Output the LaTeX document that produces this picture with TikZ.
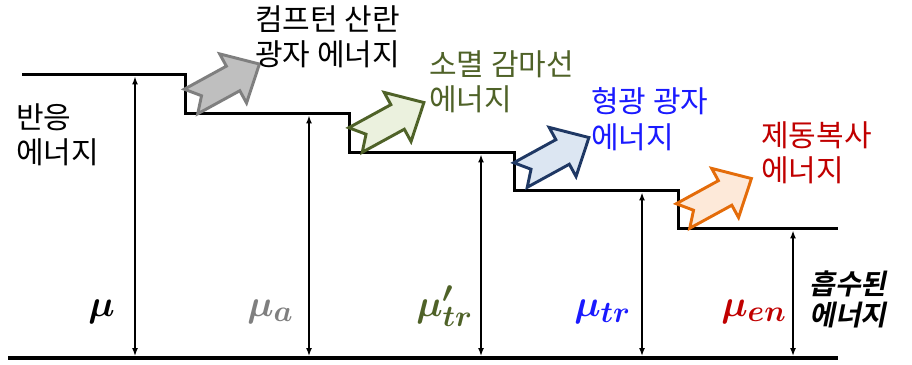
\RequirePackage{fix-cm}
\documentclass[tikz,border=0pt]{standalone}
\usepackage{amsmath}
\usepackage{bm}
\usepackage{fontspec}
\usepackage{tikz}
\usetikzlibrary{arrows.meta,positioning}
\newfontfamily\kofont{Noto Sans CJK KR}
\newfontfamily\kobsfont{Noto Sans CJK KR Bold}[FakeSlant=0.2]
\DeclareMathSizes{28}{28}{22.5}{18}
\definecolor{grayline}{HTML}{7F7F7F}
\definecolor{grayfill}{HTML}{BFBFBF}
\definecolor{olive}{HTML}{4F6228}
\definecolor{olivefill}{HTML}{EBF1DE}
\definecolor{navy}{HTML}{1F3864}
\definecolor{navyfill}{HTML}{DCE6F2}
\definecolor{orangeline}{HTML}{E46C0A}
\definecolor{orangefill}{HTML}{FDE9D9}
\definecolor{textblue}{HTML}{1A1AFF}
\definecolor{textred}{HTML}{C00000}
\tikzset{
  stair/.style={line width=2.25pt, line join=miter},
  ground/.style={line width=3pt},
  height/.style={line width=1.1pt, {Latex[length=6pt,width=4.5pt]}-{Latex[length=6pt,width=4.5pt]}},
  ktext/.style={font=\kofont\fontsize{22.5}{26.5}\selectfont, align=left, anchor=west, inner sep=0pt},
  kbold/.style={font=\kobsfont\fontsize{21}{23.5}\selectfont, align=left, anchor=west, inner sep=0pt},
  mulabel/.style={font=\fontsize{28}{32}\selectfont, anchor=base west, inner sep=0pt},
  notcharrow/.pic={
    \draw[pic actions, line width=2.2pt, line join=miter]
      (0,14) -- (48,14) -- (48,28) -- (78,0) -- (48,-28) -- (48,-14) -- (0,-14) -- (12,0) -- cycle;
  }
}
\begin{document}
\begin{tikzpicture}[x=0.75pt, y=0.75pt]
\useasboundingbox (0,0) rectangle (912,364);
% energy staircase
\draw[stair] (22,289) -| (185,250) -| (349,211) -| (514,173) -| (678,135) -- (838,135);
\coordinate (groundL) at (8,6);
\coordinate (groundR) at (838,6);
\draw[ground] (groundL) -- (groundR);
\foreach \x/\y [count=\i] in {135/289, 309/250, 481/211, 642/173, 793/135} {
  \coordinate (top\i) at (\x,\y-1.5);
  \coordinate (bot\i) at (\x,8);
  \draw[height] (bot\i) -- (top\i);
}
% escaping energies
\pic[rotate=28.7, fill=grayfill, draw=grayline] at (191,262.5) {notcharrow};
\pic[rotate=28.7, fill=olivefill, draw=olive] at (355.5,224) {notcharrow};
\pic[rotate=28.7, fill=navyfill, draw=navy] at (520.5,189) {notcharrow};
\pic[rotate=28.7, fill=orangefill, draw=orangeline] at (683,148) {notcharrow};
% texts
\node[ktext] (reaction) at (16,229.5) {반응\\에너지};
\node[ktext] (compton) at (255,327.5) {컴프턴 산란\\광자 에너지};
\node[ktext, text=olive] (annih) at (429,282) {소멸 감마선\\에너지};
\node[ktext, text=textblue] (fluor) at (591,245) {형광 광자\\에너지};
\node[ktext, text=textred] (brems) at (761,211.5) {제동복사\\에너지};
\node[kbold] (absorbed) at (809,64.5) {흡수된\\에너지};
% coefficients
\node[mulabel] (mu) at (88,48) {$\bm{\mu}$};
\node[mulabel, text=grayline] (mua) at (247,48) {$\bm{\mu_{a}}$};
\node[mulabel, text=olive] (mutrp) at (416,48) {$\bm{\mu'_{tr}}$};
\node[mulabel, text=textblue] (mutr) at (574,48) {$\bm{\mu_{tr}}$};
\node[mulabel, text=textred] (muen) at (721,48) {$\bm{\mu_{en}}$};
\end{tikzpicture}
\end{document}
